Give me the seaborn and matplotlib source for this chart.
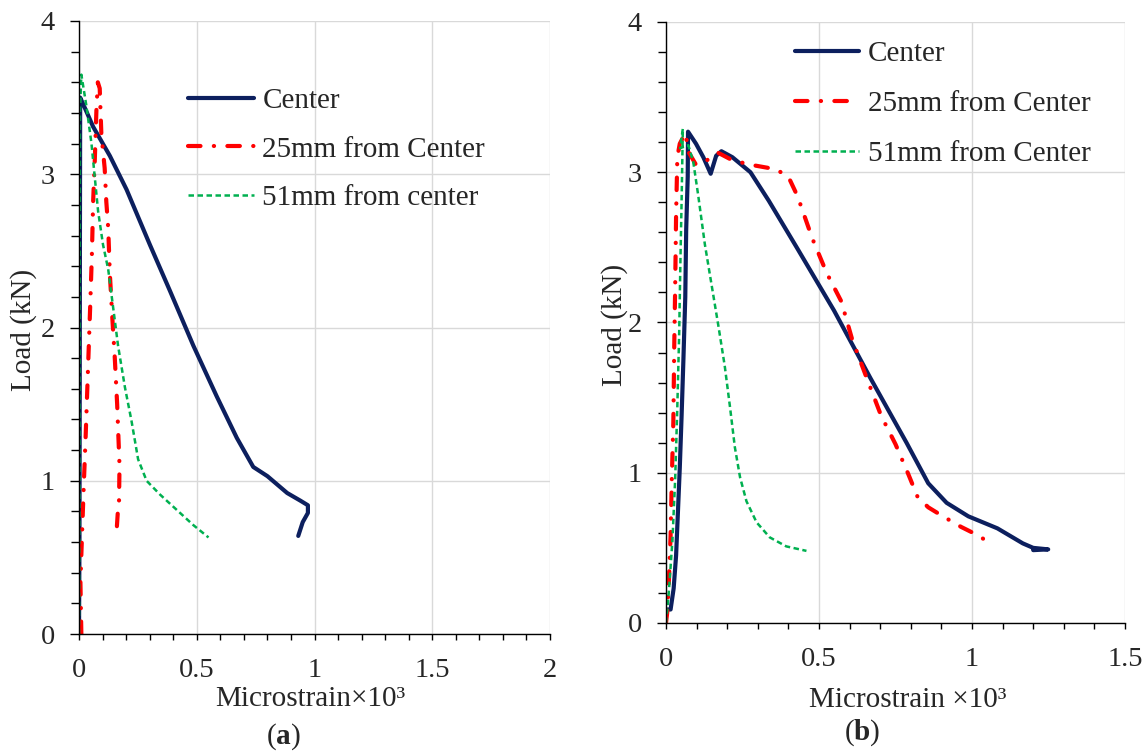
import numpy as np
import pandas as pd
import matplotlib
matplotlib.use("Agg")
import matplotlib.pyplot as plt
import seaborn as sns
from matplotlib.ticker import MultipleLocator, FuncFormatter

# ---------------- data: panel (a) ----------------
a_center_x = [0.000, 0.002, 0.003, 0.004, 0.005, 0.017, 0.060, 0.131, 0.202, 0.301, 0.386,
              0.486, 0.585, 0.670, 0.740, 0.800, 0.884, 0.940, 0.972, 0.972, 0.950, 0.931]
a_center_y = [0.00, 0.60, 1.50, 2.60, 3.50, 3.46, 3.31, 3.12, 2.90, 2.54, 2.24,
              1.88, 1.55, 1.28, 1.09, 1.03, 0.92, 0.87, 0.84, 0.79, 0.73, 0.64]

a_25_x = [0.010, 0.006, 0.014, 0.021, 0.028, 0.038, 0.048, 0.055, 0.060, 0.067, 0.074, 0.080,
          0.088, 0.095, 0.109, 0.116, 0.124, 0.131, 0.142, 0.152, 0.162, 0.172, 0.170, 0.165, 0.160]
a_25_y = [0.00, 0.34, 0.70, 1.00, 1.28, 1.72, 2.16, 2.49, 2.82, 3.09, 3.42, 3.60,
          3.56, 3.26, 3.04, 2.82, 2.65, 2.35, 2.05, 1.80, 1.50, 1.10, 0.87, 0.80, 0.68]

a_51_x = [0.000, 0.002, 0.003, 0.004, 0.010, 0.031, 0.053, 0.067, 0.081, 0.102, 0.124, 0.145,
          0.166, 0.195, 0.223, 0.251, 0.287, 0.344, 0.415, 0.486, 0.550]
a_51_y = [0.00, 1.00, 2.50, 3.40, 3.65, 3.45, 3.20, 2.98, 2.76, 2.54, 2.38, 2.13,
          1.88, 1.61, 1.39, 1.14, 1.00, 0.91, 0.81, 0.71, 0.63]

# ---------------- data: panel (b) ----------------
b_center_x = [0.000, 0.004, 0.015, 0.025, 0.033, 0.039, 0.045, 0.051, 0.057, 0.063, 0.066, 0.071,
              0.072, 0.098, 0.122, 0.146, 0.164, 0.181, 0.217, 0.276, 0.336, 0.430, 0.549,
              0.668, 0.786, 0.857, 0.917, 0.988, 1.083, 1.166, 1.200, 1.249, 1.200]
b_center_y = [0.05, 0.09, 0.09, 0.23, 0.45, 0.74, 1.03, 1.38, 1.76, 2.17, 2.62, 2.97,
              3.27, 3.19, 3.10, 2.99, 3.11, 3.14, 3.10, 3.00, 2.81, 2.49, 2.08,
              1.63, 1.20, 0.93, 0.80, 0.71, 0.63, 0.53, 0.50, 0.49, 0.485]

b_25_x = [0.000, 0.004, 0.009, 0.015, 0.019, 0.024, 0.027, 0.030, 0.033, 0.037, 0.045, 0.063,
          0.075, 0.098, 0.134, 0.170, 0.217, 0.276, 0.359, 0.400, 0.430, 0.478, 0.525, 0.573,
          0.608, 0.656, 0.703, 0.750, 0.792, 0.822, 0.857, 0.905, 0.964, 1.023, 1.065]
b_25_y = [0.00, 0.07, 0.26, 0.58, 0.96, 1.34, 1.85, 2.24, 2.72, 3.10, 3.19, 3.26,
          3.13, 3.05, 3.08, 3.13, 3.08, 3.05, 3.02, 2.97, 2.84, 2.56, 2.33, 2.14,
          1.89, 1.63, 1.38, 1.19, 0.99, 0.84, 0.77, 0.71, 0.64, 0.58, 0.52]

b_51_x = [0.000, 0.009, 0.021, 0.030, 0.037, 0.043, 0.047, 0.051, 0.055, 0.046, 0.073, 0.089,
          0.105, 0.127, 0.149, 0.171, 0.192, 0.209, 0.225, 0.242, 0.263, 0.296, 0.339, 0.393, 0.459]
b_51_y = [0.00, 0.20, 0.55, 0.96, 1.44, 1.92, 2.40, 2.81, 3.29, 3.16, 3.18, 3.07,
          2.85, 2.52, 2.25, 1.98, 1.71, 1.44, 1.17, 0.97, 0.81, 0.67, 0.57, 0.51, 0.48]

labels_a = ["Center", "25mm from Center", "51mm from center"]
labels_b = ["Center", "25mm from Center", "51mm from Center"]
xticks_a = [0, 0.5, 1, 1.5, 2]
xticks_b = [0, 0.5, 1, 1.5]
yticks = [0, 1, 2, 3, 4]

# ---------------- style ----------------
sns.set_theme(style="white")
plt.rcParams['font.family'] = ['Liberation Serif', 'DejaVu Serif']
plt.rcParams['mathtext.fontset'] = 'custom'
plt.rcParams['mathtext.rm'] = 'Liberation Serif'
plt.rcParams['mathtext.bf'] = 'Liberation Serif:bold'

NAVY = "#0c1f5e"
RED = "#ff0000"
GREEN = "#00b050"
FS = 20.5
LFS = 21

fig = plt.figure(figsize=(11.48, 7.51), dpi=100)
W, H = 1148, 751

def px_axes(l, r, t, b):
    return fig.add_axes([l / W, 1 - b / H, (r - l) / W, (b - t) / H])

ax_a = px_axes(79, 550, 21, 634)
ax_b = px_axes(666, 1125, 22, 623)

styles = [
    dict(color=NAVY, lw=3.0, ls="-"),
    dict(color=RED, lw=3.0, ls=(0, (3.0, 3.2, 0.05, 3.2)), dash_capstyle="round"),
    dict(color=GREEN, lw=1.8, ls=(0, (2.2, 1.4))),
]

def draw(ax, series, labels, xmax, xticks):
    for (xs, ys), lab, st in zip(series, labels, styles):
        df = pd.DataFrame({"x": xs, "y": ys})
        extra = {"dash_capstyle": st["dash_capstyle"]} if "dash_capstyle" in st else {}
        sns.lineplot(data=df, x="x", y="y", ax=ax, sort=False, estimator=None,
                     label=lab, color=st["color"], linewidth=st["lw"],
                     linestyle=st["ls"], **extra)
    ax.set_xlim(0, xmax)
    ax.set_ylim(0, 4)
    ax.set_xticks(xticks)
    ax.set_yticks(yticks)
    ax.xaxis.set_minor_locator(MultipleLocator(0.1))
    ax.yaxis.set_minor_locator(MultipleLocator(0.2))
    ax.xaxis.set_major_formatter(FuncFormatter(lambda v, p: f"{v:g}"))
    ax.yaxis.set_major_formatter(FuncFormatter(lambda v, p: f"{v:g}"))
    ax.grid(True, which="major", color="#d9d9d9", lw=1.0)
    ax.set_axisbelow(True)
    for s in ["top", "right"]:
        ax.spines[s].set_visible(False)
    for s in ["left", "bottom"]:
        ax.spines[s].set_color("black")
        ax.spines[s].set_linewidth(1.0)
    ax.tick_params(axis="x", which="major", direction="out", length=4.5, width=1, color="black",
                   labelsize=FS, pad=13.0, bottom=True)
    ax.tick_params(axis="x", which="minor", direction="out", length=4.5, width=1, color="black",
                   bottom=True)
    ax.tick_params(axis="y", which="major", direction="out", length=6.3, width=1, color="black",
                   labelsize=FS, pad=11.0, left=True)
    ax.tick_params(axis="y", which="minor", direction="out", length=5.5, width=1, color="black",
                   left=True)

draw(ax_a, [(a_center_x, a_center_y), (a_25_x, a_25_y), (a_51_x, a_51_y)], labels_a, 2, xticks_a)
draw(ax_b, [(b_center_x, b_center_y), (b_25_x, b_25_y), (b_51_x, b_51_y)], labels_b, 1.5, xticks_b)

def pos_labels(ax, xl, xl_pos, yl_pos):
    ax.set_xlabel(xl, fontsize=LFS, va="center", ha="center")
    ax.set_ylabel("Load (kN)", fontsize=LFS, va="center", ha="center")
    ax.xaxis.set_label_coords(xl_pos[0] / W, 1 - xl_pos[1] / H, transform=fig.transFigure)
    ax.yaxis.set_label_coords(yl_pos[0] / W, 1 - yl_pos[1] / H, transform=fig.transFigure)

pos_labels(ax_a, "Microstrain×10³", (310, 699), (24, 330))
pos_labels(ax_b, "Microstrain ×10³", (908, 700), (615, 325))

ax_a.legend(loc="upper left", bbox_to_anchor=(188 / W, 1 - 88 / H), bbox_transform=fig.transFigure,
            frameon=False, fontsize=LFS, handlelength=2.25, handletextpad=0.3,
            labelspacing=0.75, borderpad=0, borderaxespad=0)
ax_b.legend(loc="upper left", bbox_to_anchor=(795 / W, 1 - 41 / H), bbox_transform=fig.transFigure,
            frameon=False, fontsize=LFS, handlelength=2.2, handletextpad=0.3,
            labelspacing=0.8, borderpad=0, borderaxespad=0)

fig.text(283 / W, 1 - 737 / H, r"($\mathbf{a}$)", ha="center", va="center", fontsize=LFS)
fig.text(862 / W, 1 - 733 / H, r"($\mathbf{b}$)", ha="center", va="center", fontsize=LFS)

fig.savefig("out.png", dpi=100)
